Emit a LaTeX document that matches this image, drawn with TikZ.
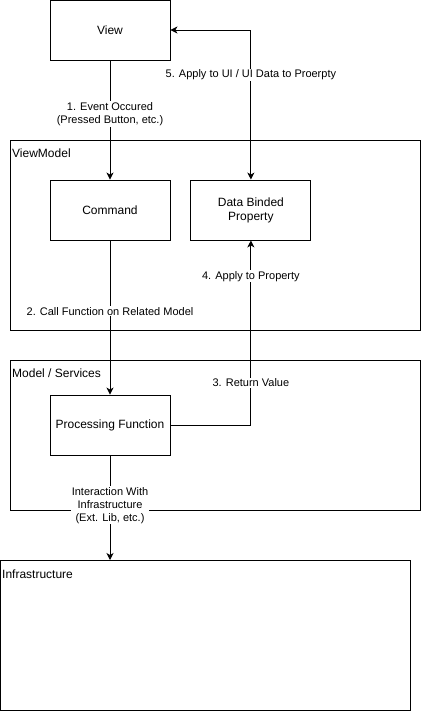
\documentclass[tikz,border=0pt]{standalone}
\usepackage{fontspec}
\setmainfont{Liberation Sans}
\usetikzlibrary{positioning,arrows.meta}
\tikzset{
	box/.style={draw, rectangle, minimum width=120pt, minimum height=60pt, align=center, font=\fontsize{12}{14}\selectfont, line width=0.9pt},
	layer/.style={draw, rectangle, inner sep=0pt, anchor=north west, line width=0.9pt},
	layertitle/.style={anchor=north west, inner sep=1pt, font=\fontsize{12}{14}\selectfont},
	lbl/.style={fill=white, align=center, inner sep=1pt, font=\fontsize{11}{13}\selectfont},
	flow/.style={->, >={Stealth[length=7pt, width=7pt, inset=2pt]}, line width=0.9pt},
}

\begin{document}
\begin{tikzpicture}[x=1pt, y=-1pt]
	\useasboundingbox (0,0) rectangle (421,711);
	% layers
	\node[layer, minimum width=410pt, minimum height=190pt] (vm) at (10,140) {};
	\node[layertitle] at ([xshift=1pt, yshift=-8pt] vm.north west) {ViewModel};
	\node[layer, minimum width=410pt, minimum height=150pt] (ms) at (10,360) {};
	\node[layertitle] at ([xshift=1pt, yshift=-8pt] ms.north west) {Model / Services};
	\node[layer, minimum width=410pt, minimum height=150pt] (infra) at (0,560) {};
	\node[layertitle] at ([xshift=1pt, yshift=-9pt] infra.north west) {Infrastructure};
	
	% boxes
	\node[box] (view) at (110,30) {View};
	\node[box] (command) at (110,210) {Command};
	\node[box, right=20pt of command] (data) {Data Binded\\Property};
	\node[box] (proc) at (110,425) {Processing Function};
	
	% flows
	\draw[flow] (view) -- node[lbl, pos=0.45] {1. Event Occured\\(Pressed Button, etc.)} (command);
	\draw[flow] (command) -- node[lbl, pos=0.46] {2. Call Function on Related Model} (proc);
	\draw[flow] (proc.east) -| node[lbl, pos=0.614] {3. Return Value} node[lbl, pos=0.903] {4. Apply to Property} (data.south);
	\draw[flow, <->] (data.north) |- node[lbl, pos=0.35] {5. Apply to UI / UI Data to Proerpty} (view.east);
	\draw[flow] (proc.south) -- node[lbl, pos=0.476] {Interaction With\\Infrastructure\\(Ext. Lib, etc.)} (proc.south |- infra.north);
\end{tikzpicture}
\end{document}
